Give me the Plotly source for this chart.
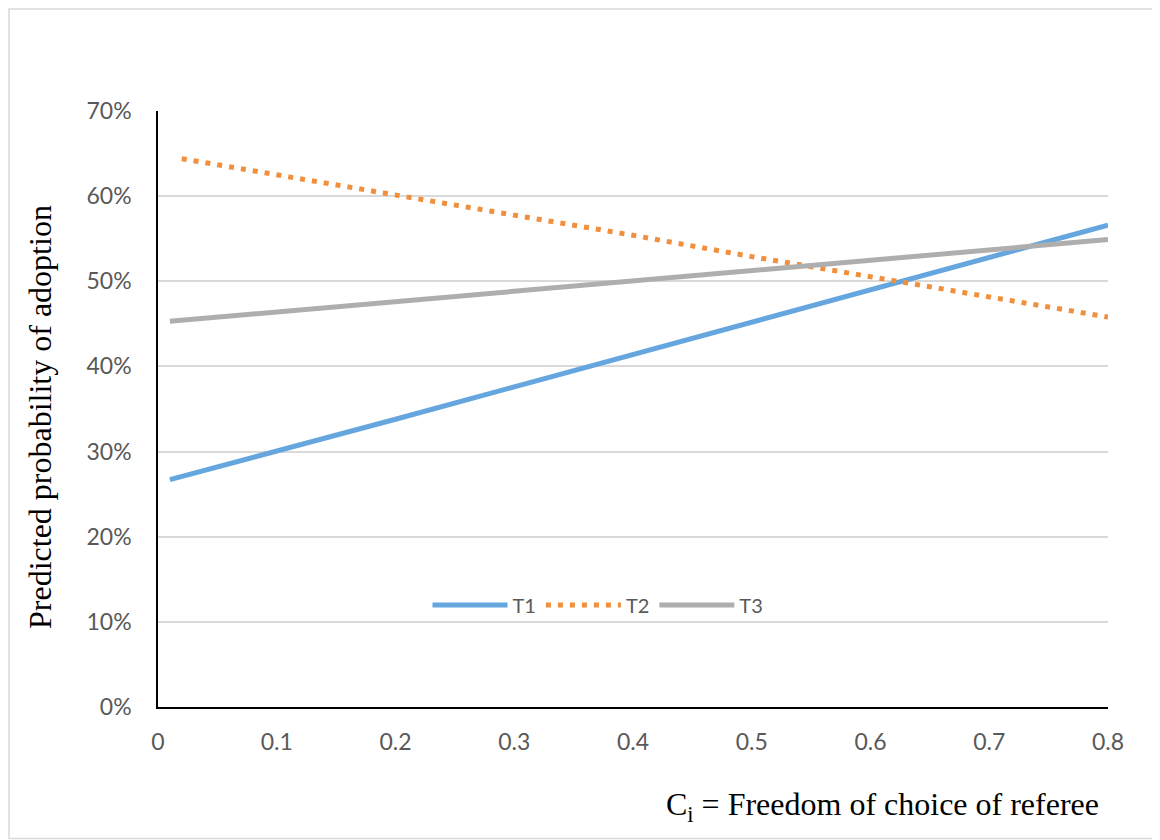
import plotly.graph_objects as go

# Data (percent)
x_t1 = [0.01, 0.1, 0.2, 0.3, 0.4, 0.5, 0.6, 0.7, 0.8]
y_t1 = [26.7, 30.0, 33.8, 37.6, 41.4, 45.3, 49.0, 52.9, 56.6]
x_t2 = [0.02, 0.1, 0.2, 0.3, 0.4, 0.5, 0.6, 0.7, 0.8]
y_t2 = [64.4, 62.5, 60.2, 57.8, 55.4, 52.9, 50.5, 48.1, 45.8]
x_t3 = [0.01, 0.1, 0.2, 0.3, 0.4, 0.5, 0.6, 0.7, 0.8]
y_t3 = [45.3, 46.4, 47.6, 48.8, 50.0, 51.2, 52.4, 53.7, 54.9]
x_ticks = [0, 0.1, 0.2, 0.3, 0.4, 0.5, 0.6, 0.7, 0.8]
y_ticks = [0, 10, 20, 30, 40, 50, 60, 70]

# page body has an 8px margin, so work in figure coords = reference - 8
OFF = 8
W, H = 1160 - OFF, 840 - OFF
L, T = 158 - OFF, 111 - OFF
PR, PB = 1108 - OFF, 707 - OFF
R, B = W - PR, H - PB
pw, ph = PR - L, PB - T


def px(xr):
    return (xr - OFF - L) / pw


def py(yr):
    return (PB - (yr - OFF)) / ph


fig = go.Figure()
fig.add_trace(go.Scatter(x=x_t1, y=y_t1, mode="lines", name="T1",
                         line=dict(color="#64A6DD", width=5)))
fig.add_trace(go.Scatter(x=x_t2, y=y_t2, mode="lines", name="T2",
                         line=dict(color="#F0903E", width=5, dash="5px,7px")))
fig.add_trace(go.Scatter(x=x_t3, y=y_t3, mode="lines", name="T3",
                         line=dict(color="#AEAEAE", width=5)))

tick_font = dict(family="Lato, 'Open Sans', sans-serif", size=23, color="#595959")
serif = "Liberation Serif, 'Times New Roman', serif"

fig.update_layout(
    width=W, height=H,
    margin=dict(l=L, r=R, t=T, b=B),
    paper_bgcolor="white", plot_bgcolor="white",
    showlegend=True,
    legend=dict(orientation="h", x=px(598), xanchor="center", y=py(605), yanchor="middle",
                font=dict(family="Lato, 'Open Sans', sans-serif", size=20, color="#595959"),
                bgcolor="rgba(0,0,0,0)", itemwidth=75),
    xaxis=dict(range=[0, 0.8], tickvals=x_ticks, ticktext=[("%g" % v) for v in x_ticks],
               showgrid=False, zeroline=False, showline=True, linecolor="#000000",
               linewidth=1.5, ticks="", tickfont=tick_font, ticklabelstandoff=14),
    yaxis=dict(range=[0, 70], tickvals=y_ticks, ticktext=["%d%%" % v for v in y_ticks],
               showgrid=True, gridcolor="#D9D9D9", gridwidth=1.5, zeroline=False,
               showline=True, linecolor="#000000", linewidth=1.5, ticks="",
               tickfont=tick_font, ticklabelstandoff=20),
    annotations=[
        dict(text="Predicted probability of adoption", xref="paper", yref="paper",
             x=px(40), y=py(417), textangle=-90, showarrow=False,
             xanchor="center", yanchor="middle",
             font=dict(family=serif, size=32, color="#000000")),
        dict(text="C<sub>i</sub> = Freedom of choice of referee", xref="paper", yref="paper",
             x=px(1101), y=py(806), showarrow=False,
             xanchor="right", yanchor="middle",
             font=dict(family=serif, size=32, color="#000000")),
    ],
    shapes=[
        dict(type="rect", xref="paper", yref="paper",
             x0=px(OFF + 1), x1=px(1158.5), y0=py(838.5), y1=py(OFF + 1),
             line=dict(color="#D9D9D9", width=1.5), fillcolor="rgba(0,0,0,0)", layer="below"),
    ],
)

fig.write_html("out.html")
